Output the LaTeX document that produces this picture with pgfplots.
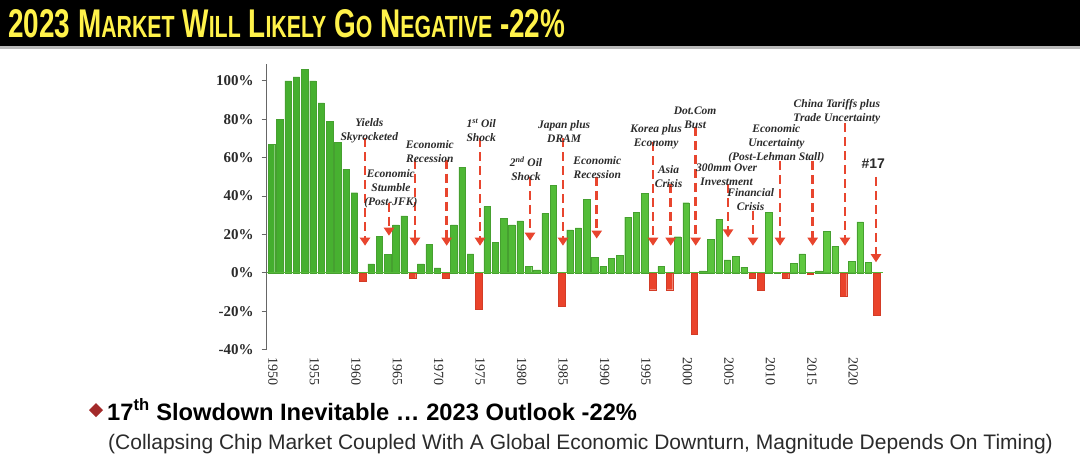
\documentclass[border=0pt]{standalone}
\usepackage{pgfplots}
\pgfplotsset{compat=1.18}
\usepackage{pgfplotstable}
\usepackage{graphicx}
\usepackage{fontspec}
\setmainfont{Liberation Serif}
\newfontfamily\arial{Liberation Sans}
\usetikzlibrary{arrows.meta}

\definecolor{ttlyellow}{HTML}{FFF24A}
\definecolor{gdark}{HTML}{44AE2E}
\definecolor{glight}{HTML}{94E470}
\definecolor{gmid}{HTML}{62CB42}
\definecolor{gedge}{HTML}{46A030}
\definecolor{gzero}{HTML}{55B83A}
\definecolor{barred}{HTML}{EA432B}
\definecolor{arrred}{HTML}{E8452E}
\definecolor{diamred}{HTML}{A32A2A}
\definecolor{txtgray}{HTML}{2B2B2B}

\pgfplotstableread{
year val
1950 67
1951 80
1952 100
1953 102
1954 106
1955 100
1956 88.5
1957 79
1958 68
1959 54
1960 41.7
1962 4.6
1963 19
1964 9.6
1965 25
1966 29.6
1968 4.6
1969 14.8
1970 2.6
1972 25
1973 55
1974 9.8
1976 34.5
1977 15.8
1978 28.3
1979 25
1980 27
1981 3.4
1982 1.5
1983 31
1984 45.7
1986 22.4
1987 23.4
1988 38.3
1989 8
1990 3.4
1991 7.6
1992 9
1993 29
1994 31.4
1995 41.5
1997 3.4
1999 18.8
2000 36.5
2002 1
2003 17.6
2004 28
2005 6.7
2006 8.6
2007 3
2010 31.4
2011 0.4
2013 4.8
2014 9.8
2016 1
2017 21.6
2018 13.7
2020 6
2021 26.5
2022 5.5
}\pos

\pgfplotstableread{
year val
1961 -4.5
1967 -3
1971 -3
1975 -19
1985 -17.3
1996 -8.8
1998 -8.8
2001 -32
2008 -3
2009 -9
2012 -3
2015 -0.5
2019 -12
2023 -22
}\neg

\newcommand\sm[1]{{\fontsize{29}{29}\selectfont #1}}

\begin{document}
\begin{tikzpicture}[
  annot/.style={font=\bfseries\itshape\fontsize{11.5}{14}\selectfont, text=txtgray, align=center, inner sep=0pt},
  arr/.style={arrred, line width=2.6pt, dash pattern=on 9pt off 5pt, -{Triangle[width=10pt,length=8pt]}}
]
\useasboundingbox (0,0) rectangle (1080pt,-464pt);
\fill[white] (0,0) rectangle (1080pt,-464pt);
\fill[black] (0,0) rectangle (1080pt,-46pt);
\fill[gray!55] (0,-46pt) rectangle (1080pt,-48.5pt);
\node[anchor=base west, inner sep=0pt, text=ttlyellow] at (8pt,-37pt)
  {\resizebox{557pt}{28pt}{\arial\bfseries\fontsize{38}{38}\selectfont 2023 M\sm{ARKET} W\sm{ILL} L\sm{IKELY} G\sm{O} N\sm{EGATIVE} -22\%}};

\begin{axis}[
  at={(266.7pt,-349.6pt)}, anchor=south west,
  scale only axis, width=616.6pt, height=286.1pt,
  xmin=1949.42, xmax=2023.8, ymin=-40, ymax=109,
  axis lines*=left,
  x axis line style={draw=none},
  y axis line style={draw=gray!80!black, line width=0.8pt},
  clip=false,
  tick align=outside,
  major tick length=5pt,
  ytick={-40,-20,0,20,40,60,80,100},
  yticklabels={-40\%,-20\%,0\%,20\%,40\%,60\%,80\%,100\%},
  xtick={1950,1955,1960,1965,1970,1975,1980,1985,1990,1995,2000,2005,2010,2015,2020},
  xticklabels={1950,1955,1960,1965,1970,1975,1980,1985,1990,1995,2000,2005,2010,2015,2020},
  ytick style={draw=gray!80!black, line width=0.8pt},
  xtick style={draw=none},
  yticklabel style={font=\bfseries\fontsize{15}{15}\selectfont, text=txtgray, inner sep=3pt, xshift=-5pt},
  xticklabel style={rotate=-90, anchor=west, font=\fontsize{14}{14}\selectfont, text=txtgray, inner sep=0pt, xshift=3pt, yshift=1.5pt},
]
\addplot[ybar, bar width=0.78, bar shift=0pt, draw=gedge, line width=0.4pt, left color=gdark, middle color=glight, right color=gmid] table[x=year,y=val] {\pos};
\addplot[ybar, bar width=0.78, bar shift=0pt, fill=barred, draw=barred!90!black, line width=0.3pt] table[x=year,y=val] {\neg};
\draw[gzero, line width=1pt] (axis cs:1949.42,0) -- (axis cs:2023.8,0);

\draw[arr] (axis cs:1961.28,70) -- (axis cs:1961.28,14.1);
\draw[arr] (axis cs:1964.17,36.5) -- (axis cs:1964.17,19.3);
\draw[arr] (axis cs:1967.31,59) -- (axis cs:1967.31,14.1);
\draw[arr] (axis cs:1971.13,59) -- (axis cs:1971.13,14.1);
\draw[arr] (axis cs:1975.15,70) -- (axis cs:1975.15,14.1);
\draw[arr] (axis cs:1981.18,50) -- (axis cs:1981.18,16.7);
\draw[arr] (axis cs:1985.16,70) -- (axis cs:1985.16,14.1);
\draw[arr] (axis cs:1989.23,50) -- (axis cs:1989.23,17.8);
\draw[arr] (axis cs:1996.02,68) -- (axis cs:1996.02,14.1);
\draw[arr] (axis cs:1998.15,46) -- (axis cs:1998.15,14.1);
\draw[arr] (axis cs:2001.17,76) -- (axis cs:2001.17,14.1);
\draw[arr] (axis cs:2005.07,46) -- (axis cs:2005.07,18.4);
\draw[arr] (axis cs:2008.08,32) -- (axis cs:2008.08,14.1);
\draw[arr] (axis cs:2011.34,58) -- (axis cs:2011.34,14.1);
\draw[arr] (axis cs:2015.28,58) -- (axis cs:2015.28,14.1);
\draw[arr] (axis cs:2019.18,78) -- (axis cs:2019.18,14.1);
\draw[arr] (axis cs:2022.92,50) -- (axis cs:2022.92,5.5);

\node[annot] at (axis cs:1961.8,74.2) {Yields\\Skyrocketed};
\node[annot] at (axis cs:1964.4,44) {Economic\\Stumble\\(Post-JFK)};
\node[annot] at (axis cs:1969.1,63.2) {Economic\\Recession};
\node[annot] at (axis cs:1975.3,74.2) {1\textsuperscript{st} Oil\\Shock};
\node[annot] at (axis cs:1980.7,54.3) {2\textsuperscript{nd} Oil\\Shock};
\node[annot] at (axis cs:1985.3,73.8) {Japan plus\\DRAM};
\node[annot] at (axis cs:1989.3,54.7) {Economic\\Recession};
\node[annot] at (axis cs:1996.4,70.8) {Korea plus\\Economy};
\node[annot] at (axis cs:1997.9,50.2) {Asia\\Crisis};
\node[annot] at (axis cs:2001.1,80.5) {Dot.Com\\Bust};
\node[annot] at (axis cs:2004.9,51) {300mm Over\\Investment};
\node[annot] at (axis cs:2007.8,37.9) {Financial\\Crisis};
\node[annot] at (axis cs:2010.9,67.1) {Economic\\Uncertainty\\(Post-Lehman Stall)};
\node[annot] at (axis cs:2018.2,84.1) {China Tariffs plus\\Trade Uncertainty};
\node[inner sep=0pt, text=txtgray, font=\arial\bfseries\fontsize{14}{14}\selectfont] at (axis cs:2022.6,57) {\#17};
\end{axis}

\fill[diamred] (96pt,-403pt) -- (103pt,-410pt) -- (96pt,-417pt) -- (89pt,-410pt) -- cycle;
\node[anchor=base west, inner sep=0pt, text=black] at (107pt,-420pt)
  {\arial\bfseries\fontsize{23.7}{23.7}\selectfont 17\textsuperscript{th} Slowdown Inevitable … 2023 Outlook -22\%};
\node[anchor=base west, inner sep=0pt, text=txtgray] at (108pt,-449pt)
  {\arial\fontsize{21}{21}\selectfont (Collapsing Chip Market Coupled With A Global Economic Downturn, Magnitude Depends On Timing)};
\end{tikzpicture}
\end{document}
